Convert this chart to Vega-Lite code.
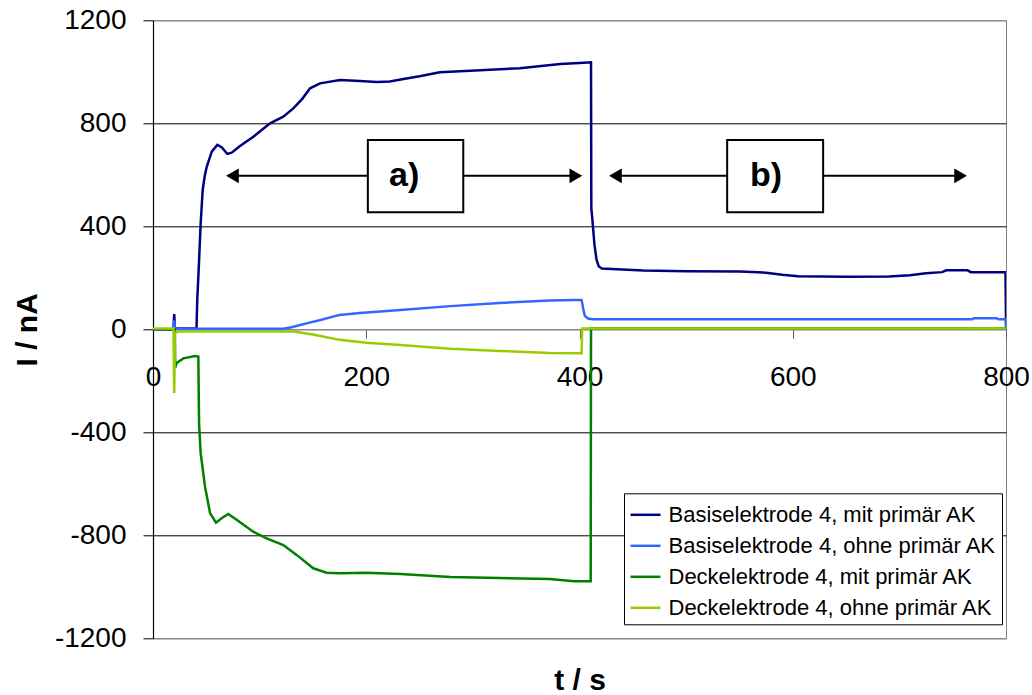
{
  "$schema": "https://vega.github.io/schema/vega-lite/v6.json",
  "autosize": {"type": "none"},
  "padding": {"left": 153, "top": 20.3, "right": 26, "bottom": 56.7},
  "width": 853,
  "height": 618,
  "config": {
    "font": "Liberation Sans",
    "view": {"stroke": "#808080", "strokeWidth": 1}
  },
  "datasets": {
    "series": [
      {"s": "Basiselektrode 4, mit primär AK", "t": 0, "v": 0},
      {"s": "Basiselektrode 4, mit primär AK", "t": 19.2, "v": 0},
      {"s": "Basiselektrode 4, mit primär AK", "t": 19.9, "v": 59},
      {"s": "Basiselektrode 4, mit primär AK", "t": 20.6, "v": 3},
      {"s": "Basiselektrode 4, mit primär AK", "t": 40.8, "v": 3},
      {"s": "Basiselektrode 4, mit primär AK", "t": 41.5, "v": 114},
      {"s": "Basiselektrode 4, mit primär AK", "t": 43.1, "v": 256},
      {"s": "Basiselektrode 4, mit primär AK", "t": 44.7, "v": 412},
      {"s": "Basiselektrode 4, mit primär AK", "t": 46.6, "v": 541},
      {"s": "Basiselektrode 4, mit primär AK", "t": 48.5, "v": 595},
      {"s": "Basiselektrode 4, mit primär AK", "t": 50.4, "v": 631},
      {"s": "Basiselektrode 4, mit primär AK", "t": 55.1, "v": 690},
      {"s": "Basiselektrode 4, mit primär AK", "t": 60.3, "v": 716},
      {"s": "Basiselektrode 4, mit primär AK", "t": 64.4, "v": 707},
      {"s": "Basiselektrode 4, mit primär AK", "t": 69.7, "v": 681},
      {"s": "Basiselektrode 4, mit primär AK", "t": 73.8, "v": 686},
      {"s": "Basiselektrode 4, mit primär AK", "t": 81.6, "v": 712},
      {"s": "Basiselektrode 4, mit primär AK", "t": 94.1, "v": 748},
      {"s": "Basiselektrode 4, mit primär AK", "t": 109.8, "v": 800},
      {"s": "Basiselektrode 4, mit primär AK", "t": 122.2, "v": 826},
      {"s": "Basiselektrode 4, mit primär AK", "t": 131.6, "v": 858},
      {"s": "Basiselektrode 4, mit primär AK", "t": 140, "v": 895},
      {"s": "Basiselektrode 4, mit primär AK", "t": 147.3, "v": 936},
      {"s": "Basiselektrode 4, mit primär AK", "t": 156.6, "v": 955},
      {"s": "Basiselektrode 4, mit primär AK", "t": 175.4, "v": 968},
      {"s": "Basiselektrode 4, mit primär AK", "t": 194, "v": 964},
      {"s": "Basiselektrode 4, mit primär AK", "t": 210, "v": 960},
      {"s": "Basiselektrode 4, mit primär AK", "t": 222, "v": 962},
      {"s": "Basiselektrode 4, mit primär AK", "t": 235, "v": 972},
      {"s": "Basiselektrode 4, mit primär AK", "t": 250, "v": 983},
      {"s": "Basiselektrode 4, mit primär AK", "t": 269, "v": 998},
      {"s": "Basiselektrode 4, mit primär AK", "t": 307, "v": 1006},
      {"s": "Basiselektrode 4, mit primär AK", "t": 344, "v": 1014},
      {"s": "Basiselektrode 4, mit primär AK", "t": 382, "v": 1030},
      {"s": "Basiselektrode 4, mit primär AK", "t": 400, "v": 1034},
      {"s": "Basiselektrode 4, mit primär AK", "t": 410.8, "v": 1037},
      {"s": "Basiselektrode 4, mit primär AK", "t": 411.1, "v": 470},
      {"s": "Basiselektrode 4, mit primär AK", "t": 412, "v": 430},
      {"s": "Basiselektrode 4, mit primär AK", "t": 414, "v": 330},
      {"s": "Basiselektrode 4, mit primär AK", "t": 416, "v": 270},
      {"s": "Basiselektrode 4, mit primär AK", "t": 418, "v": 245},
      {"s": "Basiselektrode 4, mit primär AK", "t": 421, "v": 236},
      {"s": "Basiselektrode 4, mit primär AK", "t": 440, "v": 232},
      {"s": "Basiselektrode 4, mit primär AK", "t": 460, "v": 228},
      {"s": "Basiselektrode 4, mit primär AK", "t": 500, "v": 225},
      {"s": "Basiselektrode 4, mit primär AK", "t": 550, "v": 224},
      {"s": "Basiselektrode 4, mit primär AK", "t": 575, "v": 220},
      {"s": "Basiselektrode 4, mit primär AK", "t": 590, "v": 212},
      {"s": "Basiselektrode 4, mit primär AK", "t": 605, "v": 206},
      {"s": "Basiselektrode 4, mit primär AK", "t": 650, "v": 204},
      {"s": "Basiselektrode 4, mit primär AK", "t": 690, "v": 205},
      {"s": "Basiselektrode 4, mit primär AK", "t": 710, "v": 210},
      {"s": "Basiselektrode 4, mit primär AK", "t": 725, "v": 218},
      {"s": "Basiselektrode 4, mit primär AK", "t": 740, "v": 222},
      {"s": "Basiselektrode 4, mit primär AK", "t": 744, "v": 229},
      {"s": "Basiselektrode 4, mit primär AK", "t": 764, "v": 229},
      {"s": "Basiselektrode 4, mit primär AK", "t": 767, "v": 222},
      {"s": "Basiselektrode 4, mit primär AK", "t": 799.5, "v": 222},
      {"s": "Basiselektrode 4, mit primär AK", "t": 800, "v": 36},
      {"s": "Basiselektrode 4, ohne primär AK", "t": 0, "v": 0},
      {"s": "Basiselektrode 4, ohne primär AK", "t": 19.2, "v": 0},
      {"s": "Basiselektrode 4, ohne primär AK", "t": 19.9, "v": 35},
      {"s": "Basiselektrode 4, ohne primär AK", "t": 20.6, "v": 2},
      {"s": "Basiselektrode 4, ohne primär AK", "t": 122, "v": 2},
      {"s": "Basiselektrode 4, ohne primär AK", "t": 130, "v": 8},
      {"s": "Basiselektrode 4, ohne primär AK", "t": 138, "v": 17},
      {"s": "Basiselektrode 4, ohne primär AK", "t": 147, "v": 26},
      {"s": "Basiselektrode 4, ohne primär AK", "t": 157, "v": 36},
      {"s": "Basiselektrode 4, ohne primär AK", "t": 175, "v": 56},
      {"s": "Basiselektrode 4, ohne primär AK", "t": 194, "v": 63},
      {"s": "Basiselektrode 4, ohne primär AK", "t": 232, "v": 75},
      {"s": "Basiselektrode 4, ohne primär AK", "t": 279, "v": 90},
      {"s": "Basiselektrode 4, ohne primär AK", "t": 325, "v": 102},
      {"s": "Basiselektrode 4, ohne primär AK", "t": 372, "v": 112},
      {"s": "Basiselektrode 4, ohne primär AK", "t": 395, "v": 114},
      {"s": "Basiselektrode 4, ohne primär AK", "t": 402, "v": 114},
      {"s": "Basiselektrode 4, ohne primär AK", "t": 403.5, "v": 80},
      {"s": "Basiselektrode 4, ohne primär AK", "t": 405, "v": 52},
      {"s": "Basiselektrode 4, ohne primär AK", "t": 408, "v": 42},
      {"s": "Basiselektrode 4, ohne primär AK", "t": 412, "v": 39},
      {"s": "Basiselektrode 4, ohne primär AK", "t": 768, "v": 39},
      {"s": "Basiselektrode 4, ohne primär AK", "t": 770, "v": 43},
      {"s": "Basiselektrode 4, ohne primär AK", "t": 791, "v": 43},
      {"s": "Basiselektrode 4, ohne primär AK", "t": 793, "v": 39},
      {"s": "Basiselektrode 4, ohne primär AK", "t": 799.5, "v": 39},
      {"s": "Basiselektrode 4, ohne primär AK", "t": 800, "v": 3},
      {"s": "Deckelektrode 4, mit primär AK", "t": 0, "v": 0},
      {"s": "Deckelektrode 4, mit primär AK", "t": 20.4, "v": 0},
      {"s": "Deckelektrode 4, mit primär AK", "t": 20.9, "v": -150},
      {"s": "Deckelektrode 4, mit primär AK", "t": 22, "v": -132},
      {"s": "Deckelektrode 4, mit primär AK", "t": 28.4, "v": -113},
      {"s": "Deckelektrode 4, mit primär AK", "t": 39.4, "v": -104},
      {"s": "Deckelektrode 4, mit primär AK", "t": 42.5, "v": -106},
      {"s": "Deckelektrode 4, mit primär AK", "t": 43.2, "v": -365},
      {"s": "Deckelektrode 4, mit primär AK", "t": 44.7, "v": -481},
      {"s": "Deckelektrode 4, mit primär AK", "t": 48.8, "v": -611},
      {"s": "Deckelektrode 4, mit primär AK", "t": 53.5, "v": -714},
      {"s": "Deckelektrode 4, mit primär AK", "t": 59.1, "v": -751},
      {"s": "Deckelektrode 4, mit primär AK", "t": 64.4, "v": -734},
      {"s": "Deckelektrode 4, mit primär AK", "t": 70.6, "v": -717},
      {"s": "Deckelektrode 4, mit primär AK", "t": 78.4, "v": -740},
      {"s": "Deckelektrode 4, mit primär AK", "t": 94, "v": -786},
      {"s": "Deckelektrode 4, mit primär AK", "t": 106.6, "v": -812},
      {"s": "Deckelektrode 4, mit primär AK", "t": 122.2, "v": -838},
      {"s": "Deckelektrode 4, mit primär AK", "t": 134.7, "v": -876},
      {"s": "Deckelektrode 4, mit primär AK", "t": 150.3, "v": -928},
      {"s": "Deckelektrode 4, mit primär AK", "t": 162.8, "v": -945},
      {"s": "Deckelektrode 4, mit primär AK", "t": 175.4, "v": -947},
      {"s": "Deckelektrode 4, mit primär AK", "t": 200, "v": -945},
      {"s": "Deckelektrode 4, mit primär AK", "t": 232, "v": -950},
      {"s": "Deckelektrode 4, mit primär AK", "t": 279, "v": -962},
      {"s": "Deckelektrode 4, mit primär AK", "t": 325, "v": -966},
      {"s": "Deckelektrode 4, mit primär AK", "t": 372, "v": -970},
      {"s": "Deckelektrode 4, mit primär AK", "t": 395, "v": -978},
      {"s": "Deckelektrode 4, mit primär AK", "t": 410.5, "v": -978},
      {"s": "Deckelektrode 4, mit primär AK", "t": 410.8, "v": 3},
      {"s": "Deckelektrode 4, mit primär AK", "t": 800, "v": 3},
      {"s": "Deckelektrode 4, ohne primär AK", "t": 0, "v": 3},
      {"s": "Deckelektrode 4, ohne primär AK", "t": 19.2, "v": 3},
      {"s": "Deckelektrode 4, ohne primär AK", "t": 19.9, "v": -247},
      {"s": "Deckelektrode 4, ohne primär AK", "t": 20.6, "v": -15},
      {"s": "Deckelektrode 4, ohne primär AK", "t": 23, "v": -9},
      {"s": "Deckelektrode 4, ohne primär AK", "t": 131.6, "v": -9},
      {"s": "Deckelektrode 4, ohne primär AK", "t": 150, "v": -20},
      {"s": "Deckelektrode 4, ohne primär AK", "t": 175, "v": -41},
      {"s": "Deckelektrode 4, ohne primär AK", "t": 200, "v": -52},
      {"s": "Deckelektrode 4, ohne primär AK", "t": 232, "v": -61},
      {"s": "Deckelektrode 4, ohne primär AK", "t": 279, "v": -76},
      {"s": "Deckelektrode 4, ohne primär AK", "t": 325, "v": -84},
      {"s": "Deckelektrode 4, ohne primär AK", "t": 372, "v": -92},
      {"s": "Deckelektrode 4, ohne primär AK", "t": 402, "v": -93},
      {"s": "Deckelektrode 4, ohne primär AK", "t": 402.5, "v": 3},
      {"s": "Deckelektrode 4, ohne primär AK", "t": 800, "v": 3}
    ],
    "arrows": [
      {"t": 74, "t2": 397, "v": 596},
      {"t": 433, "t2": 758, "v": 596}
    ],
    "heads": [
      {"t": 74.5, "v": 596, "dir": "left"},
      {"t": 396.6, "v": 596, "dir": "right"},
      {"t": 433.7, "v": 596, "dir": "left"},
      {"t": 757.4, "v": 596, "dir": "right"}
    ],
    "boxes": [
      {"t": 201.5, "t2": 291, "v": 455, "v2": 735, "tl": 235.5, "vl": 596, "label": "a)"},
      {"t": 538.5, "t2": 628.5, "v": 455, "v2": 735, "tl": 575, "vl": 596, "label": "b)"}
    ]
  },
  "layer": [
    {
      "data": {"name": "series"},
      "mark": {"type": "line", "strokeWidth": 2.5, "clip": true},
      "encoding": {
        "x": {
          "field": "t", "type": "quantitative",
          "scale": {"domain": [0, 800], "nice": false, "zero": false},
          "axis": {
            "title": "t / s",
            "values": [0, 200, 400, 600, 800],
            "labelExpr": "'' + datum.value",
            "orient": "bottom",
            "offset": -309,
            "grid": false,
            "domainColor": "#808080",
            "domainWidth": 1,
            "tickColor": "#606060",
            "tickSize": 9,
            "labelFontSize": 28,
            "labelColor": "black",
            "labelPadding": 25.5,
            "labelFlush": false,
            "labelOverlap": false,
            "titleFontSize": 30,
            "titleFontWeight": "bold",
            "titleColor": "black",
            "titleY": 360,
            "titleBaseline": "alphabetic"
          }
        },
        "y": {
          "field": "v", "type": "quantitative",
          "scale": {"domain": [-1200, 1200], "nice": false, "zero": false},
          "axis": {
            "title": "I / nA",
            "values": [-1200, -800, -400, 0, 400, 800, 1200],
            "labelExpr": "'' + datum.value",
            "grid": true,
            "gridColor": {"condition": {"test": "abs(datum.value) == 1200 || datum.value == 0", "value": "#808080"}, "value": "black"},
            "gridWidth": 1,
            "domainColor": "black",
            "domainWidth": 1.2,
            "tickColor": "black",
            "tickSize": 10,
            "labelFontSize": 28,
            "labelColor": "black",
            "labelPadding": 17,
            "labelFlush": false,
            "labelOverlap": false,
            "titleFontSize": 30,
            "titleFontWeight": "bold",
            "titleColor": "black",
            "titleX": -116.3,
            "titleY": 309,
            "titleAngle": -90,
            "titleAlign": "center",
            "titleBaseline": "alphabetic"
          }
        },
        "color": {
          "field": "s", "type": "nominal",
          "scale": {
            "domain": ["Basiselektrode 4, mit primär AK", "Basiselektrode 4, ohne primär AK", "Deckelektrode 4, mit primär AK", "Deckelektrode 4, ohne primär AK"],
            "range": ["#000080", "#3366FF", "#008000", "#99CC00"]
          },
          "legend": {
            "title": null,
            "orient": "none",
            "legendX": 471,
            "legendY": 473,
            "padding": 5,
            "strokeColor": "black",
            "fillColor": "white",
            "symbolType": "stroke",
            "symbolSize": 900,
            "symbolStrokeWidth": 2.5,
            "labelFontSize": 22,
            "labelColor": "black",
            "labelOffset": 6.5,
            "labelLimit": 500,
            "rowPadding": 3
          }
        }
      }
    },
    {
      "data": {"name": "arrows"},
      "mark": {"type": "rule", "color": "black", "strokeWidth": 2},
      "encoding": {
        "x": {"field": "t", "type": "quantitative"},
        "x2": {"field": "t2"},
        "y": {"field": "v", "type": "quantitative"}
      }
    },
    {
      "data": {"name": "heads"},
      "mark": {"type": "point", "filled": true, "color": "black", "size": 215, "opacity": 1},
      "encoding": {
        "x": {"field": "t", "type": "quantitative"},
        "y": {"field": "v", "type": "quantitative"},
        "shape": {
          "field": "dir", "type": "nominal",
          "scale": {"domain": ["left", "right"], "range": ["triangle-left", "triangle-right"]},
          "legend": null
        }
      }
    },
    {
      "data": {"name": "boxes"},
      "mark": {"type": "rect", "fill": "white", "stroke": "black", "strokeWidth": 2},
      "encoding": {
        "x": {"field": "t", "type": "quantitative"},
        "x2": {"field": "t2"},
        "y": {"field": "v", "type": "quantitative"},
        "y2": {"field": "v2"}
      }
    },
    {
      "data": {"name": "boxes"},
      "mark": {"type": "text", "fontSize": 34, "fontWeight": "bold", "color": "black", "align": "center", "baseline": "middle"},
      "encoding": {
        "x": {"field": "tl", "type": "quantitative"},
        "y": {"field": "vl", "type": "quantitative"},
        "text": {"field": "label"}
      }
    }
  ]
}
